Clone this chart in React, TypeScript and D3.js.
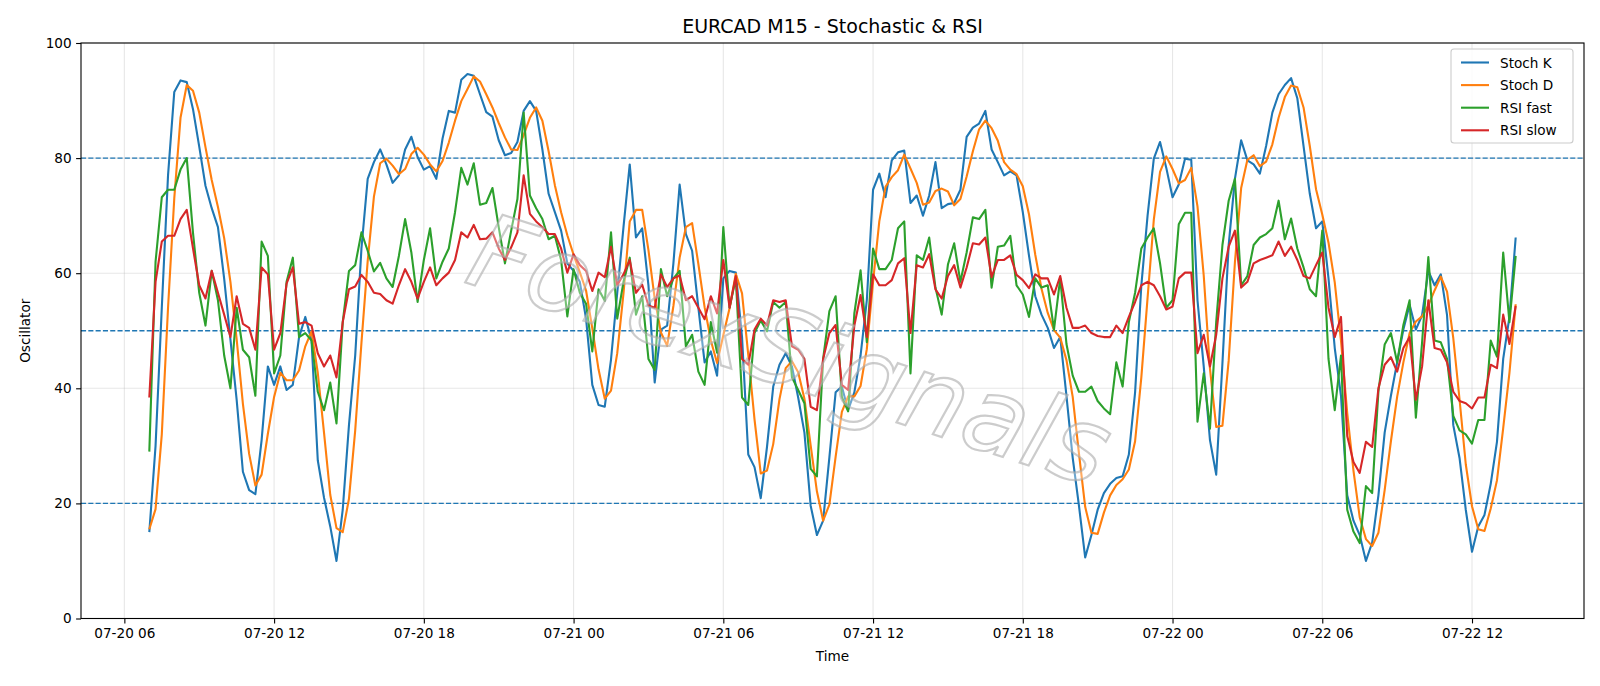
import * as d3 from 'd3';
import React, { useEffect, useRef } from 'react';

// EURCAD 15-minute bars, first bar at 07-20 07:00
const firstBar = '2022-07-20 07:00';
const barMinutes = 15;

const stochK = [
  15, 30, 54, 77, 91.5, 93.5, 93.2, 88.5, 82, 75.2,
  71.3, 68, 59, 48.5, 38, 25.5, 22.3, 21.6, 31, 43.8,
  40.6, 43.8, 39.7, 40.6, 48.9, 52.4, 48.3, 27.5, 21, 16,
  10, 18.9, 33.6, 45.7, 64.3, 76.4, 79.3, 81.5, 78.9, 75.7,
  77, 81.5, 83.7, 80.2, 78, 78.6, 76.4, 83.4, 88.2, 87.9,
  93.6, 94.6, 94.3, 91.1, 88, 87.2, 83.1, 80.5, 80.9, 82.8,
  88.2, 89.9, 88.2, 81.5, 73.8, 70.6, 67.4, 61.7, 60.4, 58.5,
  52.1, 40.6, 37.1, 36.8, 45, 56.6, 68, 78.9, 66.2, 67.8,
  57.9, 41, 50.2, 50.9, 61.7, 75.4, 66.8, 63.9, 54, 44.5,
  46.4, 42.2, 59.1, 60.4, 60.1, 48.9, 28.5, 26.3, 20.9, 29.8,
  40.3, 44.1, 46.1, 43.8, 38.4, 32.3, 19.6, 14.5, 17, 28,
  39.3, 40.3, 36.2, 39.3, 45.7, 55.3, 74.5, 77.3, 73.2, 79.6,
  81, 81.3, 72.2, 73.5, 70, 73.5, 79.3, 71.3, 72, 72.2,
  74.5, 83.7, 85.3, 86, 88.2, 81.5, 79.3, 77, 77.7, 77,
  70.6, 63, 56, 52.8, 50.5, 47, 48.9, 38.7, 27.9, 19.6,
  10.6, 14.5, 18.9, 21.8, 23.4, 24.4, 24.7, 28.5, 39.3, 57.9,
  70, 79.9, 82.8, 78.3, 73.2, 75.4, 79.9, 79.7, 55.3, 43.8,
  31, 25, 44.4, 64.9, 76.4, 83.1, 79.6, 78.9, 77.3, 82.1,
  87.9, 91.1, 92.7, 93.9, 90.4, 82.1, 73.8, 67.8, 69, 59.1,
  47, 38.7, 21.4, 17, 14.5, 10, 13.2, 21.4, 32.3, 38.7,
  44.5, 50.2, 54.5, 50.2, 52.7, 60.4, 57.9, 59.8, 52.7, 33.6,
  27.9, 18.9, 11.6, 16, 18, 23.4, 30.7, 45.1, 52.4, 66.2,
];

const stochD = [
  15.5, 19, 32, 54, 73, 87, 92.7, 91.7, 87.9, 81.9,
  76.2, 71.5, 66.1, 58.5, 48.5, 37.3, 28.6, 23.1, 25, 32.1,
  38.5, 42.7, 41.4, 41.4, 43.1, 47.3, 49.9, 42.7, 32.3, 21.5,
  15.7, 15, 20.8, 32.7, 47.9, 62.1, 73.3, 79.1, 79.9, 78.7,
  77.2, 78.1, 80.7, 81.8, 80.6, 78.9, 77.7, 79.5, 82.7, 86.5,
  89.9, 92, 94.2, 93.3, 91.1, 88.8, 86.1, 83.6, 81.5, 81.4,
  84, 87, 88.8, 86.5, 81.2, 75.3, 70.6, 66.6, 63.2, 60.2,
  57, 50.4, 43.3, 38.2, 39.6, 46.1, 56.5, 69, 71, 71,
  64, 55.6, 49.7, 47.4, 54.3, 62.7, 68, 68.7, 61.6, 54.1,
  48.3, 44.4, 49.2, 53.9, 59.9, 56.5, 45.8, 34.6, 25.2, 25.7,
  30.3, 38.1, 43.5, 44.7, 42.8, 38.2, 30.1, 22.1, 17, 19.8,
  28.1, 35.9, 38.6, 38.6, 40.4, 46.8, 58.5, 69, 75, 76.7,
  77.9, 80.6, 78.2, 75.7, 71.9, 72.3, 74.3, 74.7, 74.2, 71.8,
  72.9, 76.8, 81.2, 85, 86.5, 85.2, 83, 79.3, 78, 77.2,
  75.1, 70.2, 63.2, 57.3, 53.1, 50.1, 48.8, 44.9, 38.5, 28.7,
  19.4, 14.9, 14.7, 18.4, 21.4, 23.2, 24.2, 25.9, 30.8, 41.9,
  55.7, 69.3, 77.6, 80.3, 78.1, 75.6, 76.2, 78.3, 71.6, 59.6,
  43.4, 33.3, 33.5, 44.8, 61.9, 74.8, 79.7, 80.5, 78.6, 79.4,
  82.4, 87, 90.6, 92.6, 92.3, 88.8, 82.1, 74.6, 70.2, 65.3,
  58.4, 48.3, 35.7, 25.7, 17.6, 13.8, 12.6, 14.9, 22.3, 30.8,
  38.5, 44.5, 49.6, 51.6, 52.5, 54.4, 57, 59.4, 56.8, 48.7,
  38.1, 26.8, 19.5, 15.5, 15.2, 19.1, 24, 33.1, 42.7, 54.6,
];

const rsiFast = [
  29, 62, 73.2, 74.5, 74.5, 78, 80, 67, 56.6, 50.9,
  60.4, 55.3, 45.7, 40, 54, 46.7, 45.4, 38.7, 65.5, 63,
  42.6, 45.7, 58.5, 62.7, 48.9, 49.6, 48.3, 39.4, 36.2, 41,
  33.9, 51.5, 60.4, 61.4, 67.1, 63.9, 60.3, 61.8, 59.1, 57.6,
  63, 69.4, 63.6, 55, 62.3, 67.8, 59.1, 62, 64.3, 70.6,
  78.3, 75.4, 79.1, 71.9, 72.2, 74.8, 68, 61.7, 67.4, 72.9,
  87.9, 73.5, 71.3, 69.4, 65.9, 66.5, 62.3, 52.5, 60.7, 56.6,
  54.7, 46.4, 57.2, 55.2, 67.1, 52.1, 58.5, 62.7, 52.8, 56,
  45.1, 43.2, 60.7, 56, 59.1, 60.4, 47.3, 49.3, 42.9, 40.6,
  51.5, 46.2, 68, 54, 59.1, 38.4, 37.1, 49.6, 51.8, 49.9,
  55, 54, 55, 41.9, 39.7, 37.4, 26, 24.7, 45.1, 53.4,
  56, 38.5, 36, 53, 60.5, 48, 64.3, 60.7, 60.7, 62.3,
  67.8, 69, 42.6, 63.1, 62.3, 66.2, 57.5, 52.8, 61.5, 65.2,
  58.5, 63.6, 69.7, 69.4, 71, 57.5, 64.6, 64.8, 66.5, 57.9,
  56.3, 52.4, 59.1, 57.5, 57.9, 50.2, 59.1, 47.7, 42.2, 39.4,
  39.4, 40.3, 37.8, 36.5, 35.5, 44.5, 40.3, 51.5, 56.6, 64.3,
  66.2, 67.8, 61.7, 54, 55.3, 68.5, 70.5, 70.5, 34.2, 42.6,
  33, 51.5, 64.9, 72.6, 76.4, 57.9, 59.5, 64.9, 66.2, 66.8,
  67.8, 72.6, 65.9, 69.5, 64.3, 61, 57.2, 56, 67.4, 45.1,
  36.2, 45.7, 18.9, 15.1, 13.1, 23, 21.8, 39.5, 47.6, 49.6,
  44.5, 51, 55.3, 34.9, 48, 62.8, 48.3, 48, 45.1, 35.2,
  32.7, 32, 30.4, 34.5, 34.5, 48.3, 45.5, 63.6, 51.5, 63,
];

const rsiSlow = [
  38.4, 58.5, 65.5, 66.5, 66.5, 69.4, 71, 64.3, 57.9, 55.6,
  60.4, 56.6, 52.8, 48.9, 56, 51.2, 50.5, 46.7, 61, 59.8,
  46.7, 49.6, 58.2, 61, 51.2, 51.5, 50.9, 46.1, 43.8, 45.7,
  41.9, 51.5, 57.2, 57.7, 59.7, 58.5, 56.6, 56.4, 55.3, 54.7,
  57.9, 60.7, 58.5, 55.6, 58.5, 61, 57.9, 59.1, 60.1, 62.3,
  67.1, 66.2, 68.4, 65.9, 66, 67.1, 64.3, 62.3, 64.5, 67.1,
  77, 70.3, 69, 68, 66.8, 66.8, 64.3, 60.1, 63.3, 61.4,
  60.4, 56.9, 60.1, 59.3, 64.6, 57.9, 59.8, 62.3, 56.6, 58,
  54.4, 54, 59.8, 57.6, 59.1, 59.6, 55.3, 56, 54, 52,
  56, 53, 62.3, 54, 59.5, 45.1, 44.1, 50.2, 52.1, 50.9,
  55.3, 55, 55.3, 47.3, 46.7, 45.1, 36.8, 36.2, 45.1, 49.6,
  51, 40.6, 39.7, 50.9, 56.2, 48.9, 59.8, 57.9, 57.9, 58.8,
  61.7, 62.6, 49.6, 61.4, 61, 63.3, 57.2, 55.6, 59.5, 61.4,
  57.5, 61, 65.2, 65, 66.2, 59.3, 62.3, 62.3, 63.1, 59.7,
  58.8, 57.4, 59.8, 59.1, 59.1, 56.3, 59.5, 54, 50.5, 50.5,
  50.9, 49.6, 49.1, 48.9, 48.9, 50.9, 49.6, 52.4, 55, 57.9,
  58.5, 57.9, 56, 53.7, 54.2, 59.1, 60.1, 60.1, 46.1, 49.3,
  43.8, 49.3, 59.1, 64.6, 67.4, 57.5, 58.5, 61.7, 62.3, 62.7,
  63.1, 65.5, 63, 64.6, 62.3, 59.5, 59.1, 61.4, 63.6, 54,
  48.9, 52.4, 31.7, 27.2, 25.3, 30.7, 29.8, 40, 44.1, 45.4,
  42.9, 47, 48.9, 38, 43.8, 55.3, 47, 46.7, 44.5, 39.4,
  37.8, 37.4, 36.5, 38.4, 38.4, 44.1, 43.5, 52.8, 47.7, 54.3,
];

const seriesNames = ['Stoch K', 'Stoch D', 'RSI fast', 'RSI slow'];
const seriesColors = ['#1f77b4', '#ff7f0e', '#2ca02c', '#d62728'];
const yTicks = [0, 20, 40, 60, 80, 100];
const levels = [20, 50, 80];
const xTicks = [
  '2022-07-20 06:00', '2022-07-20 12:00', '2022-07-20 18:00',
  '2022-07-21 00:00', '2022-07-21 06:00', '2022-07-21 12:00', '2022-07-21 18:00',
  '2022-07-22 00:00', '2022-07-22 06:00', '2022-07-22 12:00',
];

const App = () => {
  const svgRef = useRef<SVGSVGElement>(null);

  useEffect(() => {
    const width = 1600;
    const height = 686;
    const plot = { left: 81, right: 1584, top: 43, bottom: 618.5 };
    const font = '"DejaVu Sans", sans-serif';

    const parse = d3.timeParse('%Y-%m-%d %H:%M');
    const t0 = parse(firstBar) as Date;
    const times = stochK.map((_, i) => d3.timeMinute.offset(t0, i * barMinutes));
    const tEnd = times[times.length - 1];
    const pad = (+tEnd - +t0) * 0.05;

    const x = d3.scaleTime()
      .domain([new Date(+t0 - pad), new Date(+tEnd + pad)])
      .range([plot.left, plot.right]);
    const y = d3.scaleLinear().domain([0, 100]).range([plot.bottom, plot.top]);

    const svg = d3.select(svgRef.current);
    svg.selectAll('*').remove();
    svg.attr('width', width).attr('height', height);

    svg.append('rect').attr('width', width).attr('height', height).attr('fill', 'white');

    // grid
    const tickDates = xTicks.map(s => parse(s) as Date);
    const grid = svg.append('g').attr('stroke', '#b0b0b0').attr('stroke-opacity', 0.3).attr('stroke-width', 1.1);
    grid.selectAll('line.v').data(tickDates).enter().append('line')
      .attr('x1', d => x(d)).attr('x2', d => x(d))
      .attr('y1', plot.top).attr('y2', plot.bottom);
    grid.selectAll('line.h').data(yTicks).enter().append('line')
      .attr('x1', plot.left).attr('x2', plot.right)
      .attr('y1', d => y(d)).attr('y2', d => y(d));

    // overbought / middle / oversold levels
    svg.append('g').selectAll('line').data(levels).enter().append('line')
      .attr('x1', plot.left).attr('x2', plot.right)
      .attr('y1', d => y(d)).attr('y2', d => y(d))
      .attr('stroke', '#1f77b4').attr('stroke-width', 1.4)
      .attr('stroke-dasharray', '5.1 2.2');

    const series = [stochK, stochD, rsiFast, rsiSlow];
    const line = d3.line<number>()
      .x((_, i) => x(times[i]))
      .y(d => y(d));

    svg.append('g').selectAll('path').data(series).enter().append('path')
      .attr('fill', 'none')
      .attr('stroke', (_, i) => seriesColors[i])
      .attr('stroke-width', 2.1)
      .attr('stroke-linejoin', 'round')
      .attr('d', d => line(d));

    // watermark
    svg.append('text')
      .attr('transform', 'translate(790,350) rotate(18)')
      .attr('text-anchor', 'middle')
      .attr('dominant-baseline', 'central')
      .style('font-family', font)
      .style('font-style', 'italic')
      .style('font-size', '104px')
      .attr('fill', 'white').attr('fill-opacity', 0.35)
      .attr('stroke', '#aaaaaa').attr('stroke-opacity', 0.6).attr('stroke-width', 2.2)
      .text('ForexSignals');

    // frame
    svg.append('rect')
      .attr('x', plot.left).attr('y', plot.top)
      .attr('width', plot.right - plot.left).attr('height', plot.bottom - plot.top)
      .attr('fill', 'none').attr('stroke', 'black').attr('stroke-width', 1.1);

    // x axis
    const xAxis = svg.append('g')
      .attr('transform', `translate(0,${plot.bottom})`)
      .call(d3.axisBottom(x).tickValues(tickDates).tickFormat(d3.timeFormat('%m-%d %H') as any)
        .tickSizeInner(4.9).tickSizeOuter(0).tickPadding(4.5));
    xAxis.select('.domain').remove();
    xAxis.selectAll('line').attr('stroke', 'black').attr('stroke-width', 1.1);
    xAxis.selectAll('text').style('font-family', font).style('font-size', '13.6px').attr('fill', 'black');

    // y axis
    const yAxis = svg.append('g')
      .attr('transform', `translate(${plot.left},0)`)
      .call(d3.axisLeft(y).tickValues(yTicks).tickSizeInner(4.9).tickSizeOuter(0).tickPadding(4.5));
    yAxis.select('.domain').remove();
    yAxis.selectAll('line').attr('stroke', 'black').attr('stroke-width', 1.1);
    yAxis.selectAll('text').style('font-family', font).style('font-size', '13.6px').attr('fill', 'black');

    // axis labels
    svg.append('text')
      .attr('x', (plot.left + plot.right) / 2).attr('y', 661)
      .attr('text-anchor', 'middle')
      .style('font-family', font).style('font-size', '13.6px')
      .text('Time');
    svg.append('text')
      .attr('transform', `translate(30,${(plot.top + plot.bottom) / 2}) rotate(-90)`)
      .attr('text-anchor', 'middle')
      .style('font-family', font).style('font-size', '13.6px')
      .text('Oscillator');

    // title
    svg.append('text')
      .attr('x', (plot.left + plot.right) / 2).attr('y', 33)
      .attr('text-anchor', 'middle')
      .style('font-family', font).style('font-size', '19px')
      .text('EURCAD M15 - Stochastic & RSI');

    // legend
    const legend = svg.append('g');
    legend.append('rect')
      .attr('x', 1451).attr('y', 49).attr('width', 122).attr('height', 94).attr('rx', 3)
      .attr('fill', 'white').attr('fill-opacity', 0.8)
      .attr('stroke', '#cccccc').attr('stroke-width', 1.1);
    seriesNames.forEach((name, i) => {
      const cy = 62.5 + i * 22.6;
      legend.append('line')
        .attr('x1', 1461).attr('x2', 1489).attr('y1', cy).attr('y2', cy)
        .attr('stroke', seriesColors[i]).attr('stroke-width', 2.1);
      legend.append('text')
        .attr('x', 1500).attr('y', cy)
        .attr('dominant-baseline', 'central')
        .style('font-family', font).style('font-size', '13.6px')
        .text(name);
    });
  }, []);

  return <svg ref={svgRef} style={{ position: 'absolute', left: 0, top: 0, display: 'block' }}></svg>;
};

export default App;
